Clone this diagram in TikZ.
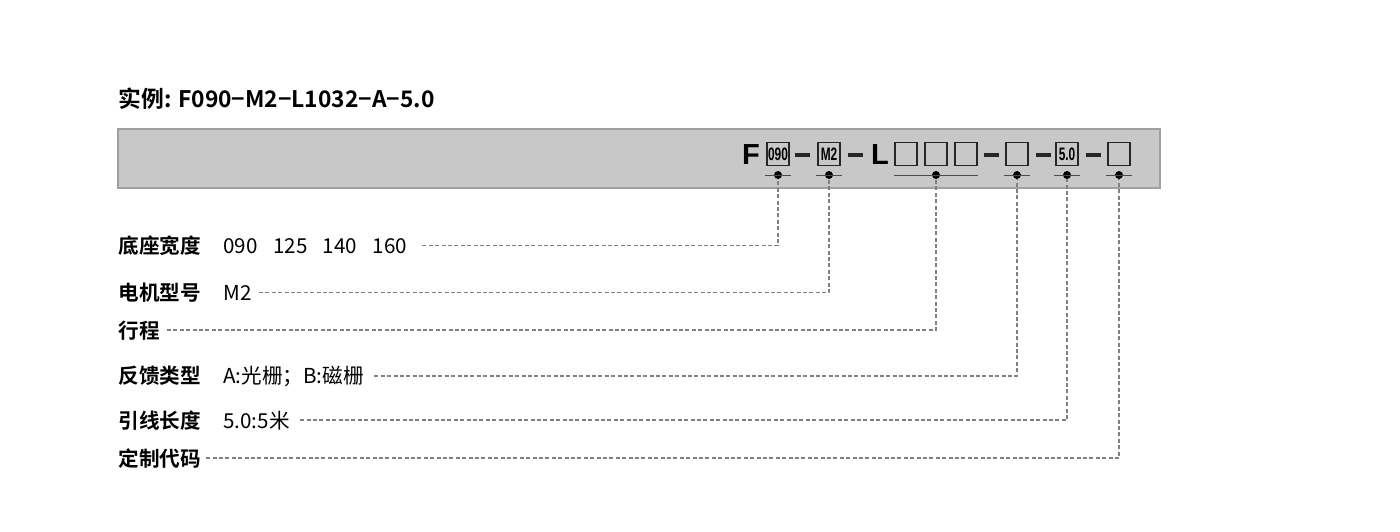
\documentclass[tikz,border=0pt]{standalone}
\usepackage{fontspec}
\setmainfont{Noto Sans CJK SC}[BoldFont={Noto Sans CJK SC Bold}]
\newfontfamily\boxfont{Liberation Sans}
\usetikzlibrary{positioning, calc}
\definecolor{barfill}{HTML}{C8C8C8}
\definecolor{barline}{HTML}{A0A0A0}
\definecolor{leadgray}{HTML}{808080}
\newcommand\boxtxt[1]{\scalebox{0.66}[1]{\boxfont\fontsize{9}{9}\selectfont\bfseries #1}}

\tikzset{
  txt/.style={inner sep=0pt, anchor=base west, font=\fontsize{10.3}{12}\selectfont},
  lbl/.style={inner sep=0pt, anchor=base west, font=\fontsize{10.3}{12}\selectfont\bfseries},
  codebox/.style={draw=black!85, line width=0.6pt, minimum width=11pt, minimum height=11.5pt, inner sep=0pt},
  bigletter/.style={inner sep=0pt, font=\boxfont\fontsize{14.5}{14.5}\selectfont\bfseries},
  dot/.style={circle, fill=black, inner sep=0pt, minimum size=4pt},
  tick/.style={black!70, line width=0.5pt},
  leader/.style={leadgray, line width=0.7pt, dash pattern=on 2pt off 1.2pt},
  bar/.style={black!85, line width=1.6pt},
}

\begin{document}
\begin{tikzpicture}[x=0.5pt,y=-0.5pt]
\useasboundingbox (0,0) rectangle (1400,531);
\node[lbl, font=\fontsize{11.4}{13}\selectfont\bfseries] (title) at (118,107) {实例: F090−M2−L1032−A−5.0};
\draw[fill=barfill, draw=barline, line width=0.6pt] (118,129) rectangle (1160,188);

\node[bigletter] (cF) at (751,155) {F};
\node[codebox] (b090) at (778,154) {\boxtxt{090}};
\node[codebox] (bM2) at (829,154) {\boxtxt{M2}};
\node[bigletter] (cL) at (880,155) {L};
\node[codebox] (bL1) at (906,154) {};
\node[codebox] (bL2) at (936,154) {};
\node[codebox] (bL3) at (966,154) {};
\node[codebox] (bA) at (1017,154) {};
\node[codebox] (b50) at (1067,154) {\boxtxt{5.0}};
\node[codebox] (bC) at (1119,154) {};
\foreach \x in {802,855,991,1043,1093}
  \draw[bar] (\x-7.5,155) -- (\x+7.5,155);

\node[dot] (d090) at (778,175) {};
\node[dot] (dM2) at (829,175) {};
\node[dot] (dL) at (936,175) {};
\node[dot] (dA) at (1017,175) {};
\node[dot] (d50) at (1067,175) {};
\node[dot] (dC) at (1119,175) {};
\foreach \n in {d090,dM2,dA,d50,dC}
  \draw[tick] ([xshift=-6.5pt]\n.center) -- ([xshift=6.5pt]\n.center);
\draw[tick] (bL1.west |- dL.center) -- (bL3.east |- dL.center);

\node[lbl] (l090) at (118,253) {底座宽度};
\node[txt] (v090) at (223,253) {090\hspace{0.75em}125\hspace{0.75em}140\hspace{0.75em}160};
\node[lbl] (lM2) at (118,300) {电机型号};
\node[txt] (vM2) at (223,300) {M2};
\node[lbl] (lL) at (118,338) {行程};
\node[lbl] (lA) at (118,383) {反馈类型};
\node[txt] (vA) at (223,383) {A:光栅；B:磁栅};
\node[lbl] (l50) at (118,428) {引线长度};
\node[txt] (v50) at (223,428) {5.0:5米};
\node[lbl] (lC) at (118,466) {定制代码};

\foreach \v/\d/\g in {v090/d090/7.5, vM2/dM2/3.5, lL/dL/3.5, vA/dA/5, v50/d50/5, lC/dC/2.5}
  \draw[leader] ([xshift=\g pt]\v.east) -| (\d.south);
\end{tikzpicture}
\end{document}
